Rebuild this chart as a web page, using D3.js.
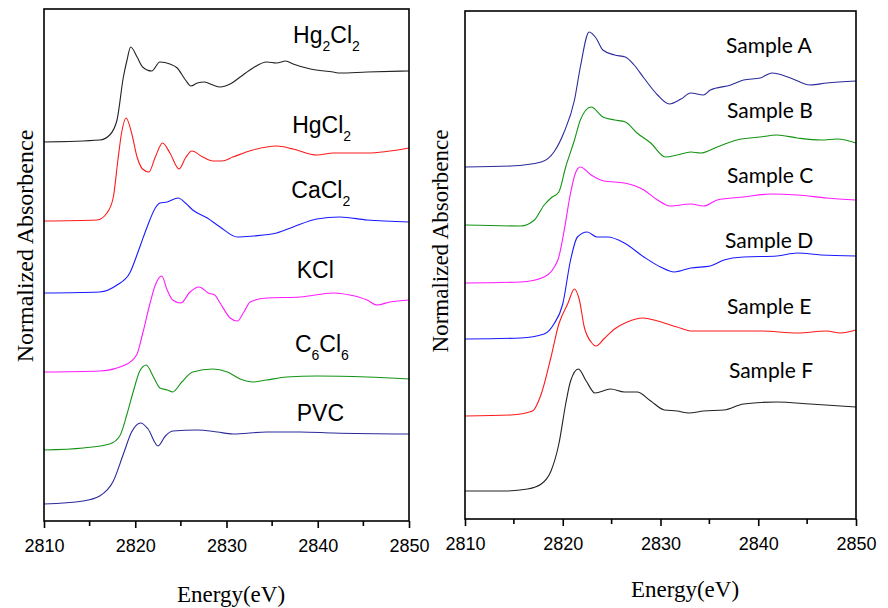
<!DOCTYPE html>
<html>
<head>
<meta charset="utf-8">
<script src="https://cdn.jsdelivr.net/npm/d3@7"></script>
<style>
  body { margin: 0; background: #fff; }
  svg { display: block; }
</style>
</head>
<body>
<svg id="chart" width="888" height="608"></svg>
<script>
// Energy (eV) ticks, shared by both panels
const energyTicks = [2810, 2820, 2830, 2840, 2850];
const minorTicks = [2815, 2825, 2835, 2845];

// Left panel: reference compounds, stacked normalized absorbance [energy, value]
const hg2cl2 = [[2810,3.79],[2816.1,3.81],[2817.2,3.86],[2818.0,4.01],[2818.7,4.44],[2819.1,4.61],[2819.5,4.74],
  [2820.2,4.64],[2820.8,4.54],[2821.8,4.50],[2822.7,4.59],[2823.8,4.57],[2824.6,4.53],[2825.5,4.41],[2826.1,4.35],
  [2826.8,4.38],[2827.6,4.39],[2828.5,4.36],[2829.3,4.34],[2830.4,4.37],[2831.5,4.44],[2832.9,4.53],[2834.4,4.59],
  [2835.5,4.58],[2836.5,4.60],[2837.3,4.57],[2839.2,4.52],[2841.7,4.49],[2842.4,4.48],[2845.4,4.49],[2850,4.50]];
const hgcl2 = [[2810,3.00],[2815.8,3.01],[2816.9,3.08],[2817.6,3.24],[2818.1,3.61],[2818.5,3.88],[2819.0,4.03],
  [2819.6,3.88],[2820.2,3.64],[2820.8,3.52],[2821.5,3.49],[2822.2,3.64],[2823.0,3.78],[2823.8,3.68],[2824.8,3.52],
  [2825.5,3.63],[2826.2,3.70],[2827.4,3.64],[2828.5,3.60],[2829.5,3.60],[2830.7,3.64],[2832.9,3.71],[2835.5,3.75],
  [2837.3,3.72],[2839.9,3.66],[2841.7,3.68],[2845.4,3.68],[2850,3.73]];
const cacl2 = [[2810,2.28],[2816.1,2.29],[2818.0,2.36],[2819.4,2.48],[2820.5,2.74],[2821.3,2.94],[2822.2,3.13],
  [2822.7,3.18],[2823.5,3.19],[2824.7,3.23],[2825.5,3.18],[2826.3,3.11],[2827.9,3.03],[2829.3,2.94],[2831.2,2.84],
  [2832.9,2.85],[2835.5,2.88],[2837.3,2.94],[2839.9,3.02],[2842.4,3.04],[2845.4,3.01],[2850,2.99]];
const kcl = [[2810,1.49],[2816.1,1.50],[2819.1,1.57],[2820.2,1.67],[2820.8,1.87],[2821.6,2.17],[2822.2,2.36],
  [2822.9,2.45],[2823.5,2.31],[2824.1,2.21],[2825.0,2.18],[2826.0,2.29],[2827.0,2.34],[2828.0,2.28],[2828.7,2.26],
  [2829.3,2.18],[2830.4,2.03],[2831.2,2.00],[2831.9,2.09],[2832.6,2.19],[2834.4,2.23],[2838.1,2.24],[2841.7,2.28],
  [2843.5,2.26],[2845.4,2.21],[2846.5,2.16],[2847.9,2.19],[2850,2.21]];
const c6cl6 = [[2810,0.71],[2814.3,0.73],[2817.2,0.77],[2818.3,0.85],[2819.1,1.07],[2819.8,1.30],[2820.5,1.50],
  [2821.2,1.56],[2822.0,1.44],[2822.7,1.33],[2823.5,1.31],[2824.1,1.29],[2825.1,1.39],[2826.3,1.49],[2828.5,1.52],
  [2830.1,1.49],[2831.5,1.42],[2832.9,1.39],[2834.4,1.41],[2836.6,1.44],[2839.9,1.45],[2845.4,1.44],[2850,1.42]];
const pvc = [[2810,0.17],[2814.3,0.20],[2816.1,0.25],[2817.6,0.40],[2818.7,0.67],[2819.6,0.89],[2820.6,0.98],
  [2821.4,0.92],[2822.5,0.75],[2823.3,0.85],[2824.1,0.90],[2826.8,0.91],[2829.0,0.89],[2830.7,0.87],[2834.4,0.89],
  [2838.1,0.89],[2841.7,0.88],[2850,0.87]];

// Right panel: samples
const sampleA = [[2810,3.52],[2814.7,3.53],[2817.8,3.57],[2819.1,3.67],[2820.1,3.86],[2821.2,4.19],[2821.8,4.52],
  [2822.7,4.87],[2823.4,4.81],[2824.1,4.69],[2825.3,4.64],[2826.4,4.62],[2827.3,4.54],[2828.3,4.41],[2829.7,4.24],
  [2830.9,4.15],[2832.1,4.20],[2833.1,4.26],[2834.4,4.24],[2835.1,4.29],[2837.2,4.34],[2838.5,4.39],[2840.2,4.41],
  [2841.4,4.46],[2843.3,4.41],[2845.3,4.34],[2847.0,4.36],[2850,4.38]];
const sampleB = [[2810,2.94],[2815.7,2.93],[2817.1,2.99],[2818.1,3.14],[2818.8,3.21],[2819.6,3.27],[2820.3,3.52],
  [2821.2,3.79],[2821.8,3.99],[2822.9,4.12],[2824.1,4.02],[2825.3,3.99],[2826.4,3.97],[2827.6,3.86],[2829.0,3.76],
  [2830.5,3.62],[2831.7,3.64],[2833.1,3.67],[2834.1,3.66],[2835.8,3.72],[2837.8,3.79],[2840.2,3.82],[2841.9,3.84],
  [2844.0,3.81],[2846.4,3.79],[2848.1,3.80],[2850,3.76]];
const sampleC = [[2810,2.36],[2815.7,2.37],[2818.1,2.42],[2819.5,2.59],[2820.1,2.86],[2820.8,3.26],[2821.3,3.46],
  [2821.8,3.52],[2822.9,3.44],[2824.2,3.38],[2826.3,3.36],[2828.3,3.29],[2829.7,3.19],[2831.0,3.13],[2833.1,3.15],
  [2834.4,3.13],[2835.8,3.19],[2838.5,3.22],[2841.3,3.25],[2844.0,3.24],[2847.0,3.21],[2850,3.19]];
const sampleD = [[2810,1.80],[2815.7,1.81],[2818.1,1.85],[2819.1,1.95],[2820.0,2.15],[2820.8,2.59],[2821.5,2.82],
  [2822.5,2.87],[2823.5,2.82],[2824.6,2.82],[2826.3,2.76],[2828.3,2.62],[2830.0,2.52],[2831.4,2.47],[2833.1,2.51],
  [2835.1,2.53],[2836.5,2.59],[2838.5,2.62],[2841.9,2.63],[2844.0,2.66],[2846.4,2.64],[2850,2.63]];
const sampleE = [[2810,1.03],[2814.7,1.04],[2816.9,1.08],[2817.8,1.25],[2818.8,1.62],[2819.6,1.95],[2820.5,2.15],
  [2821.2,2.30],[2821.7,2.19],[2822.2,1.92],[2822.9,1.77],[2823.4,1.73],[2824.2,1.80],[2825.3,1.90],[2826.6,1.97],
  [2828.2,2.01],[2829.7,1.98],[2831.7,1.92],[2833.1,1.88],[2836.8,1.88],[2840.2,1.88],[2844.0,1.86],[2847.0,1.88],
  [2848.4,1.86],[2850,1.89]];
const sampleF = [[2810,0.28],[2814.0,0.28],[2816.4,0.30],[2817.8,0.35],[2818.8,0.48],[2819.6,0.75],[2820.3,1.15],
  [2820.8,1.38],[2821.6,1.50],[2822.4,1.38],[2823.3,1.26],[2824.9,1.30],[2826.3,1.27],[2827.6,1.27],[2829.0,1.18],
  [2830.4,1.09],[2831.7,1.08],[2832.9,1.06],[2834.4,1.08],[2836.5,1.09],[2838.5,1.15],[2841.9,1.17],[2845.3,1.15],
  [2850,1.12]];

// labels ("_" marks the next char as subscript)
const leftNames = ["Hg_2Cl_2", "HgCl_2", "CaCl_2", "KCl", "C_6Cl_6", "PVC"];
const rightNames = ["Sample A", "Sample B", "Sample C", "Sample D", "Sample E", "Sample F"];

// label anchors in data units (energy, value)
const leftLabelAt = [[2837.3,4.78],[2837.2,3.88],[2837.1,3.23],[2837.7,2.43],[2837.5,1.69],[2837.7,1.00]];
const rightLabelAt = [[2836.7,4.66],[2836.8,4.01],[2836.8,3.36],[2836.6,2.71],[2836.8,2.05],[2837.0,1.41]];

const panels = [
  { x0: 44, x1: 409, y0: 9, y1: 521, yMax: 5.12, series: [hg2cl2, hgcl2, cacl2, kcl, c6cl6, pvc],
    colors: ["#222", "#ff1a1a", "#1a1aff", "#ff1aff", "#139413", "#2a2a9a"],
    names: leftNames, labelAt: leftLabelAt, labelFont: "'Liberation Sans', Arial, sans-serif", labelSize: 23,
    xTitle: [231, 602], yTitle: [33, 246], yTitleSize: 24 },
  { x0: 465, x1: 856, y0: 11, y1: 519, yMax: 5.08, series: [sampleA, sampleB, sampleC, sampleD, sampleE, sampleF],
    colors: ["#2a2a9a", "#139413", "#ff1aff", "#1a1aff", "#ff1a1a", "#222"],
    names: rightNames, labelAt: rightLabelAt, labelFont: "Lato, 'Open Sans', sans-serif", labelSize: 21,
    xTitle: [685, 597], yTitle: [448, 241], yTitleSize: 23 }
];

const svg = d3.select("#chart");

panels.forEach(function(p){
  const x = d3.scaleLinear().domain([2810, 2850]).range([p.x0, p.x1]);
  const y = d3.scaleLinear().domain([0, p.yMax]).range([p.y1, p.y0]);
  const g = svg.append("g");

  // spectra
  const line = d3.line().x(d => x(d[0])).y(d => y(d[1])).curve(d3.curveMonotoneX);
  p.series.forEach(function(s, i){
    g.append("path")
      .datum(s)
      .attr("d", line)
      .attr("fill", "none")
      .attr("stroke", p.colors[i])
      .attr("stroke-width", 1.1);
  });

  // axis + minor ticks
  const axis = d3.axisBottom(x).tickValues(energyTicks).tickFormat(d3.format("d")).tickSize(7).tickPadding(11);
  const ax = g.append("g").attr("transform", "translate(0," + p.y1 + ")").call(axis);
  ax.attr("font-family", null).attr("font-size", null);
  ax.select(".domain").remove();
  ax.selectAll(".tick line").attr("stroke", "#000").attr("stroke-width", 1.6);
  ax.selectAll("text")
    .attr("fill", "#000")
    .style("font-family", "'Liberation Sans', Arial, sans-serif")
    .style("font-size", "18px");
  g.selectAll(".minor")
    .data(minorTicks)
    .join("line")
      .attr("x1", d => x(d)).attr("x2", d => x(d))
      .attr("y1", p.y1).attr("y2", p.y1 + 5)
      .attr("stroke", "#000").attr("stroke-width", 1.6);

  // frame
  g.append("rect")
    .attr("x", p.x0).attr("y", p.y0)
    .attr("width", p.x1 - p.x0).attr("height", p.y1 - p.y0)
    .attr("fill", "none").attr("stroke", "#000").attr("stroke-width", 1.6);

  // series labels, with subscripts
  p.names.forEach(function(name, i){
    const t = g.append("text")
      .attr("x", x(p.labelAt[i][0]))
      .attr("y", y(p.labelAt[i][1]))
      .style("font-family", p.labelFont)
      .style("font-size", p.labelSize + "px")
      .attr("fill", "#000");
    let sub = false, shifted = false;
    for (const ch of name) {
      if (ch === "_") { sub = true; continue; }
      const dy = sub && !shifted ? 8 : (!sub && shifted ? -8 : 0);
      const ts = t.append("tspan").text(ch).attr("dy", dy);
      if (sub) ts.style("font-size", "14px");
      shifted = sub;
      sub = false;
    }
  });

  // axis titles
  svg.append("text")
    .attr("x", p.xTitle[0]).attr("y", p.xTitle[1])
    .attr("text-anchor", "middle")
    .style("font-family", "'Liberation Serif', 'Times New Roman', serif")
    .style("font-size", "23px")
    .text("Energy(eV)");
  svg.append("text")
    .attr("transform", "translate(" + p.yTitle[0] + "," + p.yTitle[1] + ") rotate(-90)")
    .attr("text-anchor", "middle")
    .style("font-family", "'Liberation Serif', 'Times New Roman', serif")
    .style("font-size", p.yTitleSize + "px")
    .text("Normalized Absorbence");
});
</script>
</body>
</html>
